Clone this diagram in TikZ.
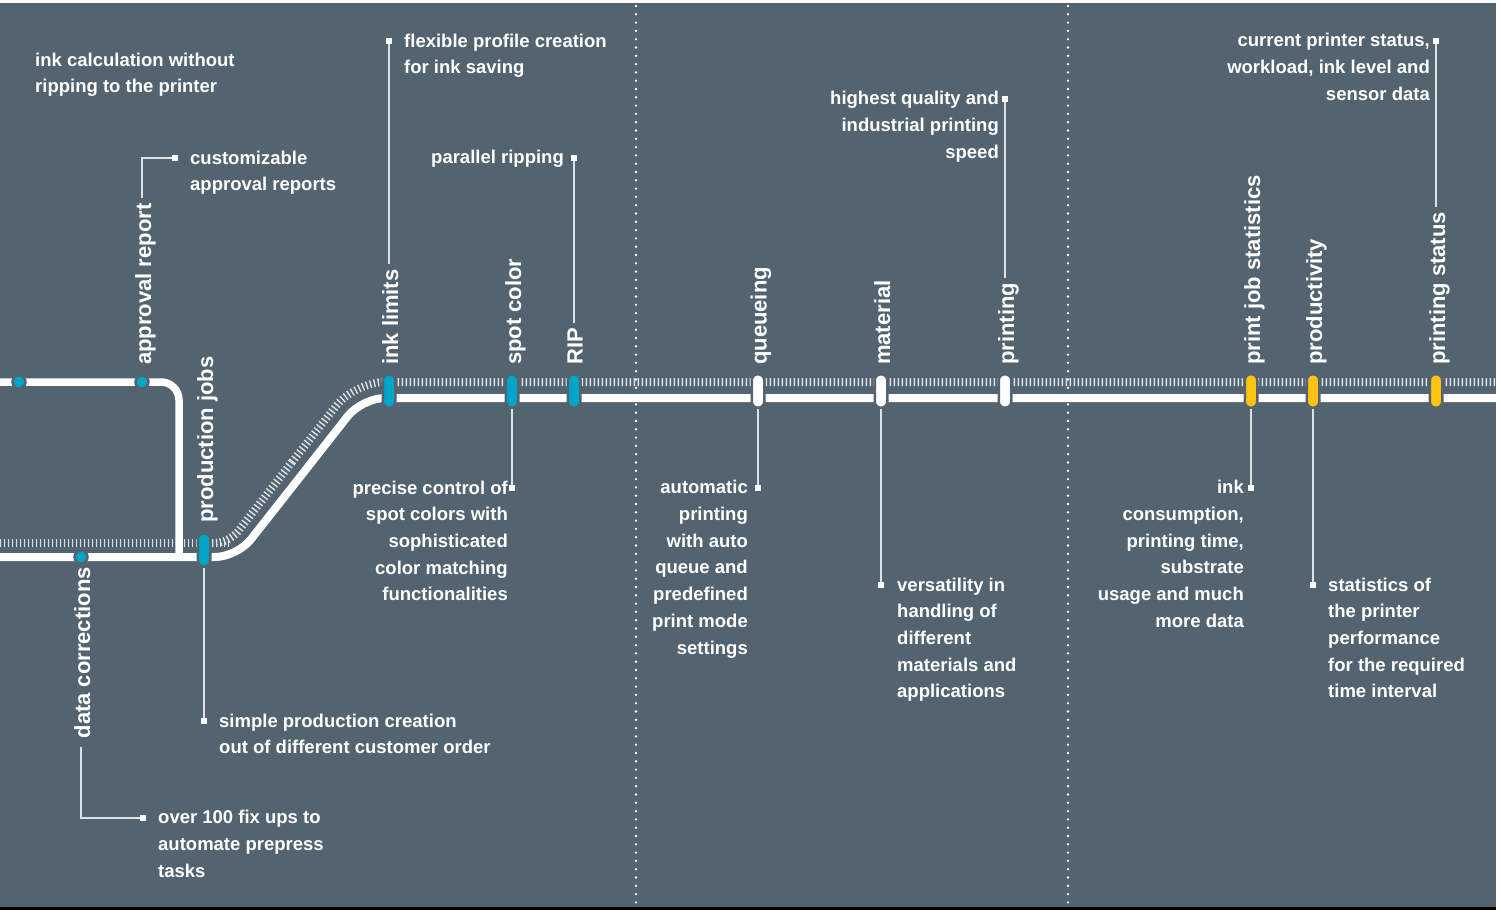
\documentclass[tikz,border=0pt]{standalone}
\usepackage{fontspec}
\setmainfont{Liberation Sans}
\usepackage{xcolor}
\definecolor{slate}{HTML}{536470}
\definecolor{stopteal}{HTML}{00A6C8}
\definecolor{stopyellow}{HTML}{FFC30F}
\definecolor{railwhite}{HTML}{DDE2E5}

\begin{document}
\begin{tikzpicture}
	[x=1pt,y=-1pt,
	track/.style = {
		draw=white, line width=8pt
	},
	sleepers/.style = {
		draw=railwhite, line width=8pt, dash pattern=on 1.4pt off 2.6pt
	},
	loop/.style = {
		draw=white, line width=7.5pt, rounded corners=18pt
	},
	sep/.style = {
		draw=white, line width=2.6pt, line cap=round, dash pattern=on 0pt off 8.3pt
	},
	dot/.style = {
		circle, fill=stopteal, draw=slate, line width=2.5pt, inner sep=0pt, minimum size=13pt
	},
	stop/.style = {
		rectangle, rounded corners=6pt, draw=slate, line width=2.5pt,
		inner sep=0pt, minimum width=12.5pt, minimum height=33.5pt
	},
	lead/.style = {
		draw=railwhite, line width=1.2pt
	},
	tip/.style = {
		rectangle, fill=white, inner sep=0pt, minimum size=6pt
	},
	note/.style = {
		text=white, inner sep=0pt, font=\fontsize{18.5}{26.67}\selectfont\bfseries
	},
	tag/.style = {
		text=white, inner sep=0pt, rotate=90, font=\fontsize{22}{26}\selectfont\bfseries
	}]
	
	%Background
	\useasboundingbox (0,0) rectangle (1501,915);
	\fill[white] (0,0) rectangle (1501,915);
	\fill[slate] (0,3) rectangle (1496,907);
	\draw[black, line width=3pt] (0,908.5) -- (1496,908.5);
	
	%Separators
	\draw[sep] (636,6) -- (636,905);
	\draw[sep] (1068,6) -- (1068,905);
	
	%Draw tracks
	\draw[sleepers] (0,543) -- (229,543);
	\draw[sleepers, rounded corners=14.6pt] (200,543) -- (229,543) -- (292,462);
	\draw[sleepers, rounded corners=30pt] (292,462) -- (355,382) -- (1496,382);
	\draw[track, rounded corners=22pt] (0,557) -- (237,557) -- (300,477);
	\draw[track, rounded corners=23pt] (300,477) -- (362,398) -- (1496,398);
	\draw[loop] (0,382) -- (179,382) -- (179,557);
	
	%Draw nodes
	\node[dot] at (19,382) (dA) {};
	\node[dot] at (142,382) (dB) {};
	\node[dot] at (81,557) (dC) {};
	
	\node[stop, fill=stopteal] at (204,550) (pJobs) {};
	\node[stop, fill=stopteal] at (389,391) (pInk) {};
	\node[stop, fill=stopteal] at (512,391) (pSpot) {};
	\node[stop, fill=stopteal] at (574,391) (pRip) {};
	\node[stop, fill=white] at (758,391) (pQueue) {};
	\node[stop, fill=white] at (881,391) (pMat) {};
	\node[stop, fill=white] at (1005,391) (pPrint) {};
	\node[stop, fill=stopyellow] at (1251,391) (pStat) {};
	\node[stop, fill=stopyellow] at (1313,391) (pProd) {};
	\node[stop, fill=stopyellow] at (1436,391) (pStatus) {};
	
	\node[tag, anchor=base west] at (151,365) (lApp) {approval report};
	\node[tag, anchor=base west] at (213,523) (lJobs) {production jobs};
	\node[tag, anchor=base east] at (90,567) (lData) {data corrections};
	\node[tag, anchor=base west] at (398,365) (lInk) {ink limits};
	\node[tag, anchor=base west] at (521,365) (lSpot) {spot color};
	\node[tag, anchor=base west] at (582.5,365) (lRip) {RIP};
	\node[tag, anchor=base west] at (766.5,365) (lQueue) {queueing};
	\node[tag, anchor=base west] at (890,365) (lMat) {material};
	\node[tag, anchor=base west] at (1014,365) (lPrint) {printing};
	\node[tag, anchor=base west] at (1260,365) (lStat) {print job statistics};
	\node[tag, anchor=base west] at (1322,365) (lProd) {productivity};
	\node[tag, anchor=base west] at (1445,365) (lStatus) {printing status};
	
	\node[tip] at (175,158) (tCust) {};
	\node[tip] at (389,41) (tFlex) {};
	\node[tip] at (574,158) (tPar) {};
	\node[tip] at (1005,99) (tHigh) {};
	\node[tip] at (1436,41) (tCur) {};
	\node[tip] at (512,488) (tPrec) {};
	\node[tip] at (758,488) (tAuto) {};
	\node[tip] at (881,585) (tVers) {};
	\node[tip] at (1251,488) (tInk) {};
	\node[tip] at (1313,585) (tPerf) {};
	\node[tip] at (204,721) (tSimple) {};
	\node[tip] at (143,818) (tFix) {};
	
	%notes sit on the baseline of their last line
	\node[note, anchor=base west, align=left] at (35,92.7) (nCalc)
	{ink calculation without\\ripping to the printer};
	\node[note, anchor=base west, align=left] at (190,190.7) (nCust)
	{customizable\\approval reports};
	\node[note, anchor=base west, align=left] at (404,73.7) (nFlex)
	{flexible profile creation\\for ink saving};
	\node[note, anchor=base east] at (564,164) (nPar) {parallel ripping};
	\node[note, anchor=base east, align=right] at (999,158.3) (nHigh)
	{highest quality and\\industrial printing\\speed};
	\node[note, anchor=base east, align=right] at (1430,100.3) (nCur)
	{current printer status,\\workload, ink level and\\sensor data};
	\node[note, anchor=base east, align=right] at (508,600.7) (nPrec)
	{precise control of\\spot colors with\\sophisticated\\color matching\\functionalities};
	\node[note, anchor=base east, align=right] at (748,654) (nAuto)
	{automatic\\printing\\with auto\\queue and\\predefined\\print mode\\settings};
	\node[note, anchor=base west, align=left] at (897,697.7) (nVers)
	{versatility in\\handling of\\different\\materials and\\applications};
	\node[note, anchor=base east, align=right] at (1244,627.3) (nInk)
	{ink\\consumption,\\printing time,\\substrate\\usage and much\\more data};
	\node[note, anchor=base west, align=left] at (1328,697.7) (nPerf)
	{statistics of\\the printer\\performance\\for the required\\time interval};
	\node[note, anchor=base west, align=left] at (219,753.7) (nSimple)
	{simple production creation\\out of different customer order};
	\node[note, anchor=base west, align=left] at (158,877.3) (nFix)
	{over 100 fix ups to\\automate prepress\\tasks};
	
	%Draw leaders
	\draw[lead, shorten >=5pt] (tCust) -| (dB |- lApp.east);
	\draw[lead, shorten >=5pt] (tFlex) -- (tFlex |- lInk.east);
	\draw[lead, shorten >=5pt] (tPar) -- (tPar |- lRip.east);
	\draw[lead, shorten >=5pt] (tHigh) -- (tHigh |- lPrint.east);
	\draw[lead, shorten >=5pt] (tCur) -- (tCur |- lStatus.east);
	
	\draw[lead] (pSpot.south) -- (tPrec);
	\draw[lead] (pQueue.south) -- (tAuto);
	\draw[lead] (pMat.south) -- (tVers);
	\draw[lead] (pStat.south) -- (tInk);
	\draw[lead] (pProd.south) -- (tPerf);
	\draw[lead] (pJobs.south) -- (tSimple);
	\draw[lead, shorten <=8pt] (dC |- lData.west) |- (tFix);
	
	%squares again on top of leaders
	\foreach \t in {tCust,tFlex,tPar,tHigh,tCur,tPrec,tAuto,tVers,tInk,tPerf,tSimple,tFix}
		\fill[white] (\t.south west) rectangle (\t.north east);
	
\end{tikzpicture}
\end{document}
